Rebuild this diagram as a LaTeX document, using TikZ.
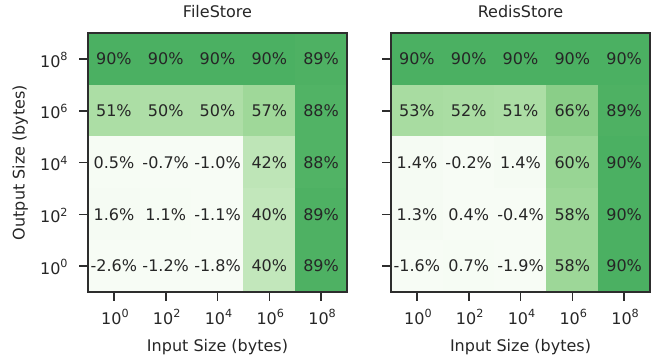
\documentclass[tikz,border=0pt]{standalone}
\usepackage{fontspec}
\setmainfont{DejaVu Sans}
\usetikzlibrary{positioning,calc}
\definecolor{txt}{RGB}{38,38,38}
\definecolor{frm}{RGB}{45,45,45}
\definecolor{gA}{RGB}{75,176,98}
\definecolor{gB}{RGB}{78,177,99}
\definecolor{gC}{RGB}{81,179,101}
\definecolor{g51}{RGB}{172,222,165}
\definecolor{g50}{RGB}{174,222,167}
\definecolor{g57}{RGB}{159,216,153}
\definecolor{g42}{RGB}{190,229,183}
\definecolor{g40}{RGB}{194,231,187}
\definecolor{g53}{RGB}{168,220,161}
\definecolor{g52}{RGB}{170,221,163}
\definecolor{g66}{RGB}{138,206,136}
\definecolor{g60}{RGB}{152,213,148}
\definecolor{g58}{RGB}{157,215,152}
\definecolor{w0}{RGB}{247,252,245}
\definecolor{w1}{RGB}{246,252,244}
\definecolor{w2}{RGB}{245,251,243}
\newcommand\hmcell[6]{%
  \node[hmbox, fill=#5, draw=#5] (#1) at ({#2+51.8*(#3+0.5)}, {33+51.8*(#4+0.5)}) {#6};}
\newcommand\tpow[1]{10\raisebox{6.3pt}{\fontsize{11.2}{12}\selectfont #1}}
\begin{document}
\begin{tikzpicture}[x=1pt,y=-1pt,
  every node/.style={text=txt, font=\fontsize{16}{19}\selectfont},
  hmbox/.style={inner sep=0pt, minimum width=52pt, minimum height=52pt, line width=0.2pt},
  tickline/.style={draw=frm, line width=1.6pt},
  frameline/.style={draw=frm, line width=1.6pt}]
\useasboundingbox (0,0) rectangle (667,362);
% ---- left panel: FileStore
\hmcell{L00}{88}{0}{0}{gA}{90\%}
\hmcell{L01}{88}{1}{0}{gA}{90\%}
\hmcell{L02}{88}{2}{0}{gA}{90\%}
\hmcell{L03}{88}{3}{0}{gA}{90\%}
\hmcell{L04}{88}{4}{0}{gB}{89\%}
\hmcell{L10}{88}{0}{1}{g51}{51\%}
\hmcell{L11}{88}{1}{1}{g50}{50\%}
\hmcell{L12}{88}{2}{1}{g50}{50\%}
\hmcell{L13}{88}{3}{1}{g57}{57\%}
\hmcell{L14}{88}{4}{1}{gC}{88\%}
\hmcell{L20}{88}{0}{2}{w1}{0.5\%}
\hmcell{L21}{88}{1}{2}{w0}{-0.7\%}
\hmcell{L22}{88}{2}{2}{w0}{-1.0\%}
\hmcell{L23}{88}{3}{2}{g42}{42\%}
\hmcell{L24}{88}{4}{2}{gC}{88\%}
\hmcell{L30}{88}{0}{3}{w2}{1.6\%}
\hmcell{L31}{88}{1}{3}{w1}{1.1\%}
\hmcell{L32}{88}{2}{3}{w0}{-1.1\%}
\hmcell{L33}{88}{3}{3}{g40}{40\%}
\hmcell{L34}{88}{4}{3}{gB}{89\%}
\hmcell{L40}{88}{0}{4}{w0}{-2.6\%}
\hmcell{L41}{88}{1}{4}{w0}{-1.2\%}
\hmcell{L42}{88}{2}{4}{w0}{-1.8\%}
\hmcell{L43}{88}{3}{4}{g40}{40\%}
\hmcell{L44}{88}{4}{4}{gB}{89\%}
% ---- right panel: RedisStore
\hmcell{R00}{391}{0}{0}{gA}{90\%}
\hmcell{R01}{391}{1}{0}{gA}{90\%}
\hmcell{R02}{391}{2}{0}{gA}{90\%}
\hmcell{R03}{391}{3}{0}{gA}{90\%}
\hmcell{R04}{391}{4}{0}{gA}{90\%}
\hmcell{R10}{391}{0}{1}{g53}{53\%}
\hmcell{R11}{391}{1}{1}{g52}{52\%}
\hmcell{R12}{391}{2}{1}{g51}{51\%}
\hmcell{R13}{391}{3}{1}{g66}{66\%}
\hmcell{R14}{391}{4}{1}{gB}{89\%}
\hmcell{R20}{391}{0}{2}{w2}{1.4\%}
\hmcell{R21}{391}{1}{2}{w0}{-0.2\%}
\hmcell{R22}{391}{2}{2}{w2}{1.4\%}
\hmcell{R23}{391}{3}{2}{g60}{60\%}
\hmcell{R24}{391}{4}{2}{gA}{90\%}
\hmcell{R30}{391}{0}{3}{w2}{1.3\%}
\hmcell{R31}{391}{1}{3}{w0}{0.4\%}
\hmcell{R32}{391}{2}{3}{w0}{-0.4\%}
\hmcell{R33}{391}{3}{3}{g58}{58\%}
\hmcell{R34}{391}{4}{3}{gA}{90\%}
\hmcell{R40}{391}{0}{4}{w0}{-1.6\%}
\hmcell{R41}{391}{1}{4}{w1}{0.7\%}
\hmcell{R42}{391}{2}{4}{w0}{-1.9\%}
\hmcell{R43}{391}{3}{4}{g58}{58\%}
\hmcell{R44}{391}{4}{4}{gA}{90\%}
% ---- frames
\draw[frameline] (L00.north west) rectangle (L44.south east);
\draw[frameline] (R00.north west) rectangle (R44.south east);
% ---- ticks and tick labels
\foreach \p in {L,R}{
  \foreach \r in {0,...,4}{
    \draw[tickline] (\p\r0.west) -- ++(-9,0) coordinate (\p yt\r);
  }
  \foreach \c in {0,...,4}{
    \draw[tickline] (\p4\c.south) -- ++(0,9) coordinate (\p xt\c);
  }
}
\foreach \r/\e in {0/8,1/6,2/4,3/2,4/0}{
  \node[anchor=east, inner sep=0pt] (ylab\r) at ($(Lyt\r)+(-11,1)$) {\tpow{\e}};
}
\foreach \p in {L,R}{
  \foreach \c/\e in {0/0,1/2,2/4,3/6,4/8}{
    \node[anchor=base, inner sep=0pt] (\p xlab\c) at ($(\p xt\c)+(1,23)$) {\tpow{\e}};
  }
}
% ---- titles and axis labels
\node[anchor=base] (tL) at ($(L02.north)+(0,-15)$) {FileStore};
\node[anchor=base] (tR) at ($(R02.north)+(0,-15)$) {RedisStore};
\node[anchor=base] (xL) at ($(L42.south)+(0,59)$) {Input Size (bytes)};
\node[anchor=base] (xR) at ($(R42.south)+(0,59)$) {Input Size (bytes)};
\node[anchor=base, rotate=90] (yL) at (24.5,162.5) {Output Size (bytes)};
\end{tikzpicture}
\end{document}
